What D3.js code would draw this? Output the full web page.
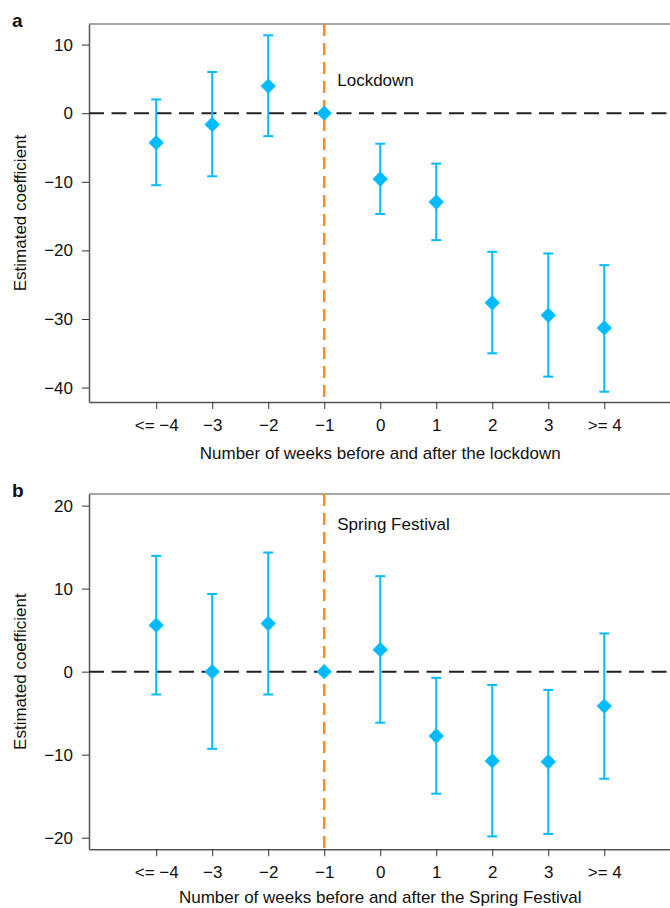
<!DOCTYPE html>
<html>
<head>
<meta charset="utf-8">
<script src="https://cdn.jsdelivr.net/npm/d3@7"></script>
<style>
  body { margin: 0; background: #fff; }
  svg { display: block; font-family: "Liberation Sans", Arial, Helvetica, sans-serif; }
</style>
</head>
<body>
<div id="chart"></div>
<script>
const width = 670;
const height = 908;

// categories (weeks relative to the event)
const weeks = [-4, -3, -2, -1, 0, 1, 2, 3, 4];
const weekLabels = ['<= \u22124', '\u22123', '\u22122', '\u22121', '0', '1', '2', '3', '>= 4'];

// panel a: lockdown
const lockEst   = [-4.3, -1.65, 3.95, 0, -9.6, -12.95, -27.65, -29.45, -31.3];
const lockUpper = [2.0, 6.0, 11.35, null, -4.45, -7.35, -20.2, -20.45, -22.15];
const lockLower = [-10.5, -9.2, -3.35, null, -14.7, -18.5, -35.0, -38.4, -40.6];
const lockTicks = [10, 0, -10, -20, -30, -40];

// panel b: spring festival
const springEst   = [5.6, 0, 5.8, 0, 2.65, -7.75, -10.75, -10.85, -4.15];
const springUpper = [13.95, 9.35, 14.35, null, 11.5, -0.75, -1.6, -2.2, 4.6];
const springLower = [-2.75, -9.3, -2.75, null, -6.15, -14.7, -19.85, -19.55, -12.9];
const springTicks = [20, 10, 0, -10, -20];

const blue = '#00BBFF';
const orange = '#FF8C1F';
const fontSize = '17px';

const svg = d3.select('#chart')
  .append('svg')
  .attr('width', width)
  .attr('height', height)

const left = 89;
const right = 671.5;

const xScale = d3.scaleLinear()
                 .domain([-5.2, 5.2])
                 .range([left, right])

const drawPanel = (opts) => {
  const yScale = d3.scaleLinear()
                   .domain(opts.domain)
                   .range([opts.bottom, opts.top])

  const g = svg.append('g');

  // top border
  g.append('line')
   .attr('x1', left).attr('x2', right)
   .attr('y1', opts.top).attr('y2', opts.top)
   .style('stroke', '#888').style('stroke-width', 1.5)

  // axes
  const yAxis = d3.axisLeft(yScale)
                  .tickValues(opts.ticks)
                  .tickFormat(d => d < 0 ? '\u2212' + Math.abs(d) : d)
                  .tickSize(7)
                  .tickSizeOuter(0)
                  .tickPadding(9)
  const xAxis = d3.axisBottom(xScale)
                  .tickValues(weeks)
                  .tickFormat((d, i) => weekLabels[i])
                  .tickSize(7)
                  .tickSizeOuter(0)
                  .tickPadding(10)

  const ya = g.append('g')
   .attr('transform', 'translate(' + left + ', 0)')
   .call(yAxis)
  const xa = g.append('g')
   .attr('transform', 'translate(0, ' + opts.bottom + ')')
   .call(xAxis)

  ;[ya, xa].forEach(a => {
    a.attr('font-size', null).attr('font-family', null)
    a.select('.domain').style('stroke', '#555').style('stroke-width', 1.5)
    a.selectAll('.tick line').style('stroke', '#333').style('stroke-width', 1)
    a.selectAll('.tick text')
     .style('font-size', fontSize)
     .style('fill', '#111')
  })

  // zero line
  g.append('line')
   .attr('x1', left).attr('x2', right)
   .attr('y1', yScale(0)).attr('y2', yScale(0))
   .style('stroke', '#222')
   .style('stroke-width', 2)
   .style('stroke-dasharray', '15,7.5')

  // event line at week -1
  g.append('line')
   .attr('x1', xScale(-1)).attr('x2', xScale(-1))
   .attr('y1', opts.top).attr('y2', opts.bottom)
   .style('stroke', orange)
   .style('stroke-width', 2.5)
   .style('stroke-dasharray', '12,7')

  g.append('text')
   .text(opts.eventLabel)
   .attr('x', xScale(-1) + 13)
   .attr('y', opts.labelY)
   .style('font-size', fontSize)
   .style('fill', '#111')

  const data = weeks.map((w, i) => ({ w: w, est: opts.est[i], up: opts.up[i], lo: opts.lo[i] }));
  const bars = data.filter(d => d.up !== null);

  g.selectAll('.bar')
   .data(bars)
   .enter()
   .append('line')
   .attr('x1', d => xScale(d.w)).attr('x2', d => xScale(d.w))
   .attr('y1', d => yScale(d.up)).attr('y2', d => yScale(d.lo))
   .style('stroke', blue).style('stroke-width', 2)

  ;['up', 'lo'].forEach(k => {
    g.selectAll('.cap-' + k)
     .data(bars)
     .enter()
     .append('line')
     .attr('x1', d => xScale(d.w) - 5).attr('x2', d => xScale(d.w) + 5)
     .attr('y1', d => yScale(d[k])).attr('y2', d => yScale(d[k]))
     .style('stroke', blue).style('stroke-width', 2)
  })

  g.selectAll('.dot')
   .data(data)
   .enter()
   .append('path')
   .attr('d', d3.symbol(d3.symbolSquare, 118))
   .attr('transform', d => 'translate(' + xScale(d.w) + ',' + yScale(d.est) + ') rotate(45)')
   .style('fill', blue)

  // axis titles
  g.append('text')
   .text(opts.xTitle)
   .attr('x', (left + right) / 2)
   .attr('y', opts.bottom + opts.titleGap)
   .attr('text-anchor', 'middle')
   .style('font-size', fontSize)
   .style('fill', '#111')

  g.append('text')
   .text('Estimated coefficient')
   .attr('transform', 'translate(26,' + ((opts.top + opts.bottom) / 2) + ') rotate(-90)')
   .attr('text-anchor', 'middle')
   .style('font-size', fontSize)
   .style('fill', '#111')

  g.append('text')
   .text(opts.panel)
   .attr('x', 12)
   .attr('y', opts.top + 3)
   .style('font-size', '19px')
   .style('font-weight', 'bold')
   .style('fill', '#111')
}

drawPanel({
  top: 24, bottom: 402, domain: [-42.1, 13.0], ticks: lockTicks,
  est: lockEst, up: lockUpper, lo: lockLower,
  eventLabel: 'Lockdown', labelY: 86, panel: 'a', titleGap: 57,
  xTitle: 'Number of weeks before and after the lockdown'
})

drawPanel({
  top: 494, bottom: 849.3, domain: [-21.4, 21.4], ticks: springTicks,
  est: springEst, up: springUpper, lo: springLower,
  eventLabel: 'Spring Festival', labelY: 529.5, panel: 'b', titleGap: 54,
  xTitle: 'Number of weeks before and after the Spring Festival'
})
</script>
</body>
</html>
